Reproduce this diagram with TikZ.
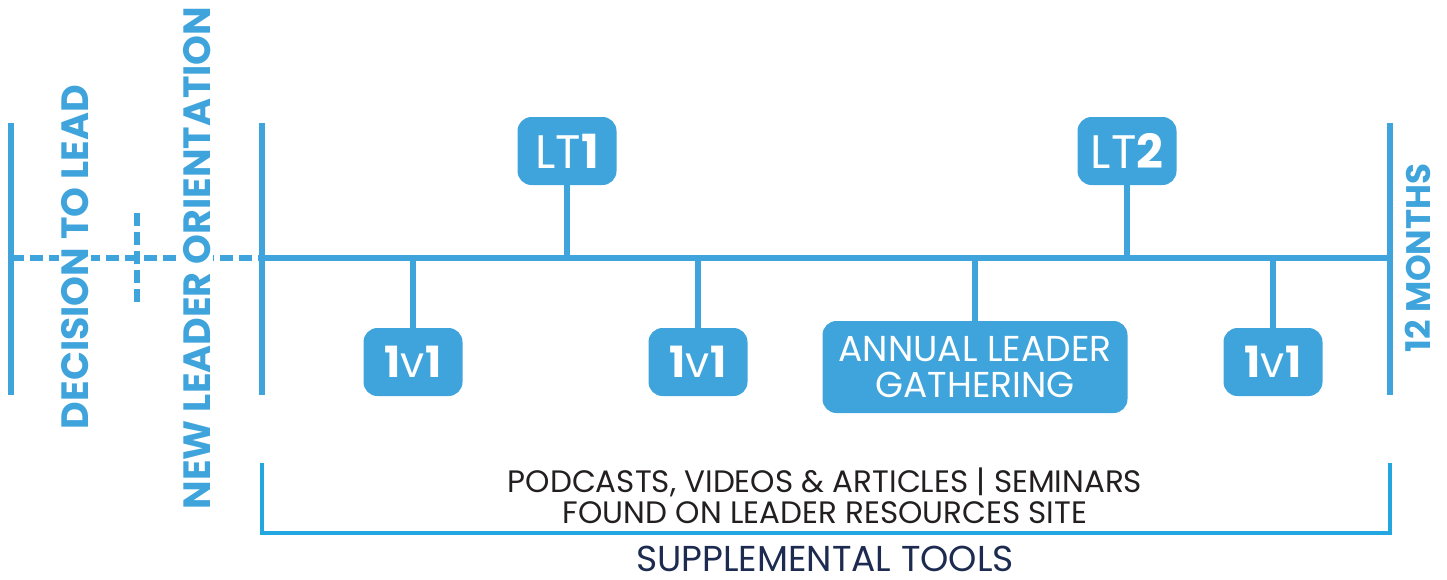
\documentclass[tikz,border=0pt]{standalone}
\usepackage{fontspec}
\setmainfont{Poppins}
\definecolor{lblue}{HTML}{3FA4DC}
\definecolor{bblue}{HTML}{22A7E0}
\definecolor{navy}{HTML}{1C2B4F}
\definecolor{tgray}{HTML}{231F20}
\begin{document}
\begin{tikzpicture}[x=1pt, y=-1pt,
    event/.style={rectangle, rounded corners=14pt, fill=lblue, text=white, inner sep=0pt, minimum height=68pt, minimum width=99pt, font=\fontsize{43}{43}\selectfont},
    stem/.style={draw=lblue, line width=5.5pt},
    dashstem/.style={draw=lblue, line width=5.5pt, dash pattern=on 13pt off 6pt},
    bracket/.style={draw=bblue, line width=3.5pt},
    vlabel/.style={rotate=90, text=lblue, fill=white, inner sep=2pt, font=\bfseries\fontsize{38}{38}\selectfont}
    ]
    \useasboundingbox (0,0) rectangle (1447,579);

    % Coordinates
    \coordinate (dtop) at (11,123);   \coordinate (dbot) at (11,395);
    \coordinate (stop) at (262,123);  \coordinate (sbot) at (262,395);
    \coordinate (etop) at (1390,123); \coordinate (ebot) at (1390,395);
    \coordinate (dmid) at (11,258);
    \coordinate (start) at (262,258); \coordinate (end) at (1390,258);
    \coordinate (otop) at (137,213);  \coordinate (obot) at (137,303);

    % Lead-in
    \draw[dashstem] (dmid) -- (start);
    \draw[dashstem] (otop) -- (obot);
    \node[vlabel] (decide) at (75,257) {DECISION TO LEAD};
    \node[vlabel] (orient) at (197,258) {NEW LEADER ORIENTATION};

    % Bars and timeline
    \draw[stem] (dtop) -- (dbot);
    \draw[stem] (stop) -- (sbot);
    \draw[stem] (etop) -- (ebot);
    \draw[stem] (start) -- (end);
    \node[vlabel, font=\bfseries\fontsize{34}{34}\selectfont] (months) at (1418,258) {12 MONTHS};

    % Nodes
    \node[event, font=\fontsize{47}{47}\selectfont] at (567,151) (lt1) {LT\textbf{1}};
    \node[event, font=\fontsize{47}{47}\selectfont] at (1127,151) (lt2) {LT\textbf{2}};
    \node[event] at (413,362) (oa) {\textbf{1}v\textbf{1}};
    \node[event] at (698,362) (ob) {\textbf{1}v\textbf{1}};
    \node[event] at (1273,362) (oc) {\textbf{1}v\textbf{1}};
    \node[event, minimum width=305pt, minimum height=92pt, align=center, font=\fontsize{36}{36}\selectfont] at (975,367) (alg) {ANNUAL LEADER\\GATHERING};

    \draw[stem] (lt1) -- (lt1 |- start);
    \draw[stem] (lt2) -- (lt2 |- start);
    \draw[stem] (oa) -- (oa |- start);
    \draw[stem] (ob) -- (ob |- start);
    \draw[stem] (oc) -- (oc |- start);
    \draw[stem] (alg) -- (alg |- start);

    % Supplemental tools
    \coordinate (bl) at (262,463); \coordinate (br) at (1390,463);
    \draw[bracket] (bl) -- ++(0,70) -| (br);
    \node[text=tgray, align=center, font=\fontsize{31}{31}\selectfont] at (825,496) (tools) {PODCASTS, VIDEOS \& ARTICLES | SEMINARS\\FOUND ON LEADER RESOURCES SITE};
    \node[text=navy, inner sep=0pt, font=\fontsize{36}{36}\selectfont] at (825,559) (supp) {SUPPLEMENTAL TOOLS};
\end{tikzpicture}
\end{document}
